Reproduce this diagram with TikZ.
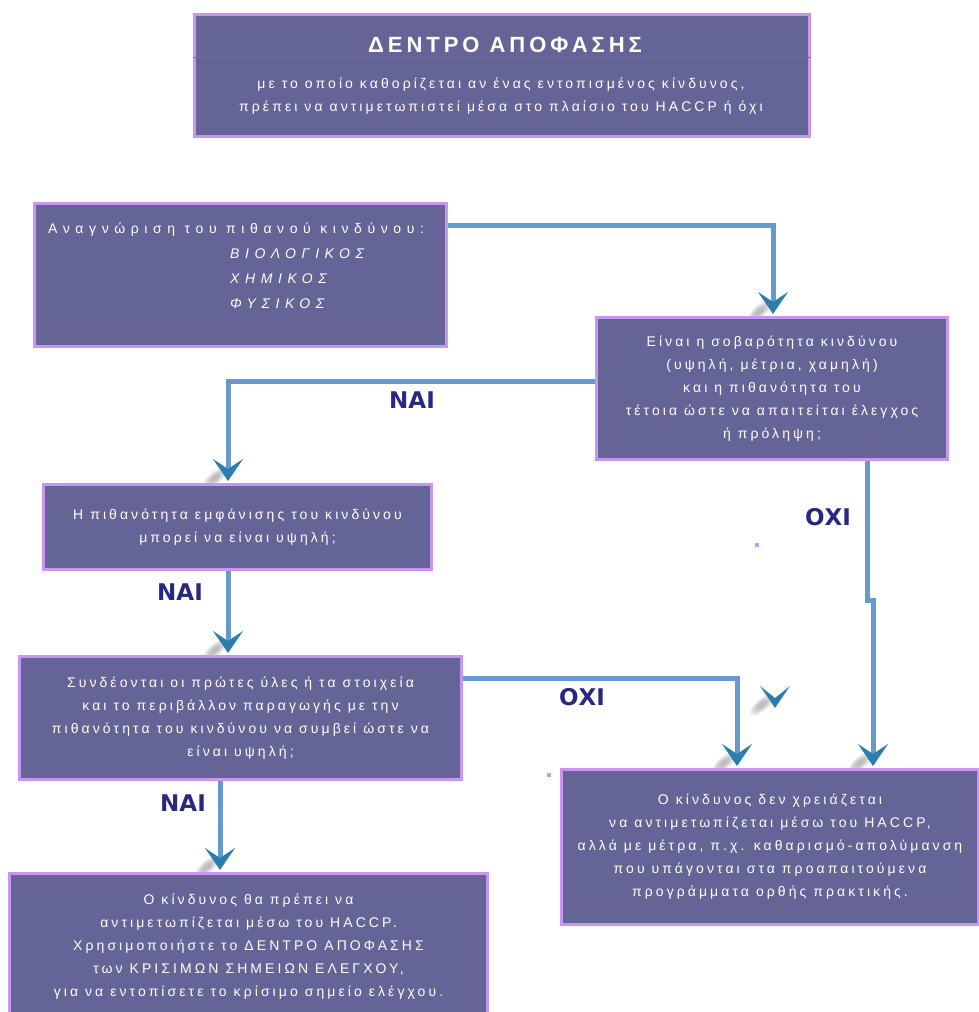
\documentclass[tikz,border=0pt]{standalone}
\usepackage{fontspec}
\setmainfont{Liberation Sans}
\newfontfamily\boxfont{Liberation Sans}[LetterSpace=22]
\newfontfamily\widefont{Liberation Sans}[LetterSpace=40]
\newfontfamily\headfont{Liberation Sans}[LetterSpace=18]
\newfontfamily\ansfont{DejaVu Sans}
\usetikzlibrary{arrows.meta}

\definecolor{boxfill}{RGB}{100,100,150}
\definecolor{boxedge}{RGB}{200,150,240}
\definecolor{linkblue}{RGB}{102,153,204}
\definecolor{tipblue}{RGB}{45,125,175}
\definecolor{labnavy}{RGB}{40,40,130}

\begin{document}
\begin{tikzpicture}[x=1pt,y=-1pt,
  box/.style={draw=boxedge, fill=boxfill, line width=3pt, anchor=north west,
    inner sep=0pt, text=white, align=center,
    font=\boxfont\fontsize{14}{23}\selectfont},
  txt/.style={text=white, inner sep=0pt, font=\boxfont\fontsize{14}{23}\selectfont},
  conn/.style={draw=linkblue, line width=5pt, shorten >=2pt,
    -{Stealth[length=22pt,width=30pt,inset=10pt,color=tipblue]}},
  ans/.style={text=labnavy, inner sep=0pt, font=\ansfont\bfseries\fontsize{23}{24}\selectfont},
  tipshade/.pic={
    \foreach \r in {1.0,0.8,0.6,0.4}
      \fill[black, opacity=0.07, shift={(-13,-3)}, rotate=40] (0,0) ellipse ({15*\r} and {6*\r});
  }
]
\useasboundingbox (0,0) rectangle (978,1012);

% soft shadows under the arrow heads
\foreach \p in {(773,314),(228,481),(228,653),(737,766),(873,766),(220,870),(775,708)}
  \pic at \p {tipshade};

% heading panel
\node[box, minimum width=615pt, minimum height=122pt] (title) at (193,13) {};
\draw[boxfill!92!white, line width=0.8pt] (title.west |- 0,57) -- (title.east |- 0,57);
\node[text=white, inner sep=0pt, font=\headfont\bfseries\fontsize{22}{24}\selectfont]
  (ttl) at (505,45) {ΔΕΝΤΡΟ ΑΠΟΦΑΣΗΣ};
\node[txt, align=center] (sub) at (501,96)
  {με το οποίο καθορίζεται αν ένας εντοπισμένος κίνδυνος,\\πρέπει να αντιμετωπιστεί μέσα στο πλαίσιο του HACCP ή όχι};

% decision boxes
\node[box, minimum width=412pt, minimum height=143pt] (b1) at (33,202) {};
\node[txt, anchor=north west, align=left, font=\widefont\fontsize{14}{25}\selectfont] (b1t) at (48,223)
  {Αναγνώριση του πιθανού κινδύνου:\\
   \hspace*{182pt}\itshape ΒΙΟΛΟΓΙΚΟΣ\\
   \hspace*{182pt}\itshape ΧΗΜΙΚΟΣ\\
   \hspace*{182pt}\itshape ΦΥΣΙΚΟΣ};

\node[box, minimum width=351pt, minimum height=142pt] (b2) at (595,316)
  {Είναι η σοβαρότητα κινδύνου\\(υψηλή, μέτρια, χαμηλή)\\και η πιθανότητα του\\τέτοια ώστε να απαιτείται έλεγχος\\ή πρόληψη;};

\node[box, minimum width=388pt, minimum height=85pt] (b3) at (42,483)
  {Η πιθανότητα εμφάνισης του κινδύνου\\μπορεί να είναι υψηλή;};

\node[box, minimum width=442pt, minimum height=123pt] (b4) at (18,655)
  {Συνδέονται οι πρώτες ύλες ή τα στοιχεία\\και το περιβάλλον παραγωγής με την\\πιθανότητα του κινδύνου να συμβεί ώστε να\\είναι υψηλή;};

\node[box, minimum width=417pt, minimum height=155pt] (b5) at (560,768)
  {Ο κίνδυνος δεν χρειάζεται\\να αντιμετωπίζεται μέσω του HACCP,\\αλλά με μέτρα, π.χ. καθαρισμό-απολύμανση\\που υπάγονται στα προαπαιτούμενα\\προγράμματα ορθής πρακτικής.};

\node[box, minimum width=478pt, minimum height=146pt] (b6) at (8,872)
  {Ο κίνδυνος θα πρέπει να\\αντιμετωπίζεται μέσω του HACCP.\\Χρησιμοποιήστε το ΔΕΝΤΡΟ ΑΠΟΦΑΣΗΣ\\των ΚΡΙΣΙΜΩΝ ΣΗΜΕΙΩΝ ΕΛΕΓΧΟΥ,\\για να εντοπίσετε το κρίσιμο σημείο ελέγχου.};

% bends of the connectors
\coordinate (k1) at (773,225);
\coordinate (k2) at (228,381);
\coordinate (k3) at (228,600);
\coordinate (k4) at (737,678);
\coordinate (k5) at (867,600);
\coordinate (k6) at (873,600);
\coordinate (k7) at (220,820);

\draw[conn] (b1.east |- k1) -- (k1) -- (k1 |- b2.north);
\draw[conn] (b2.west |- k2) -- (k2) -- (k2 |- b3.north);
\draw[conn] (k3 |- b3.south) -- (k3 |- b4.north);
\draw[conn] (b4.east |- k4) -- (k4) -- (k4 |- b5.north);
\draw[conn] (k5 |- b2.south) -- (k5) -- (k6) -- (k6 |- b5.north);
\draw[conn] (k7 |- b4.south) -- (k7 |- b6.north);

% loose arrow head beside the ΟΧΙ branch
\fill[tipblue] (775,708) -- (760,686) -- (775,698) -- (790,686) -- cycle;

% small marks
\fill[boxedge] (755,543) rectangle (759,547);
\fill[boxedge] (547,773) rectangle (551,777);

% answers
\node[ans] (yes1) at (412,400) {ΝΑΙ};
\node[ans] (yes2) at (180,592) {ΝΑΙ};
\node[ans] (yes3) at (183,803) {ΝΑΙ};
\node[ans] (no1) at (828,517) {ΟΧΙ};
\node[ans] (no2) at (582,697) {ΟΧΙ};
\end{tikzpicture}
\end{document}
